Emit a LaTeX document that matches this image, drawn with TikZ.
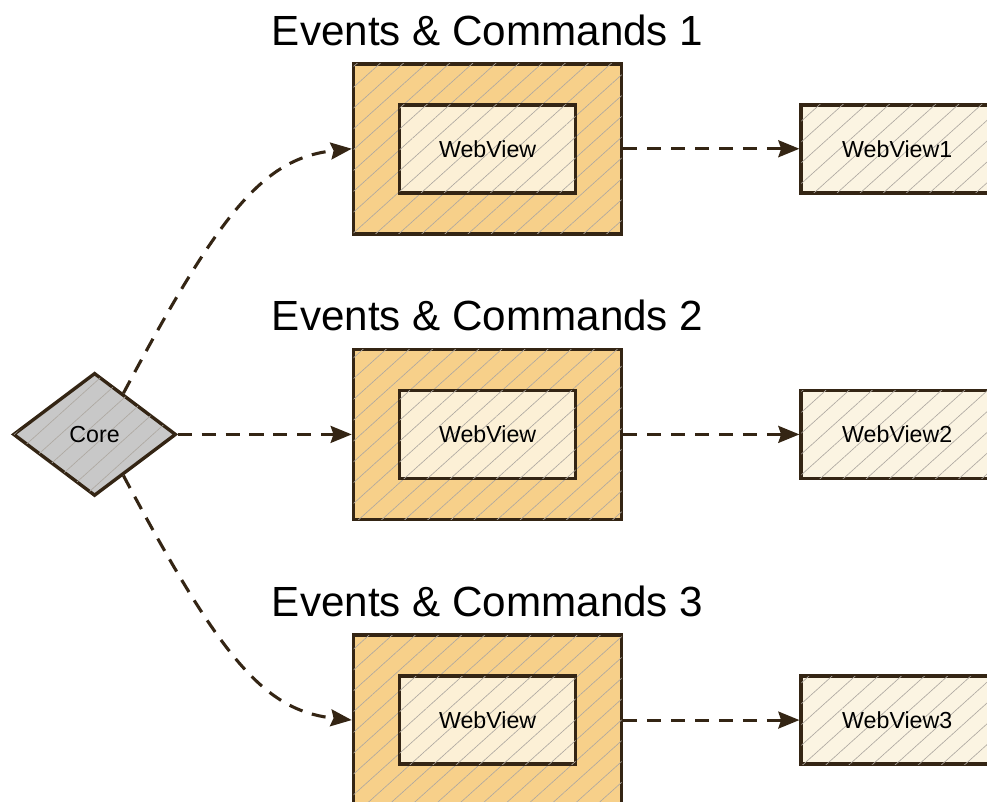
\documentclass[tikz,border=0pt]{standalone}
\usepackage{fontspec}
\setmainfont{Liberation Sans}
\usepackage{xcolor}
\usepackage{tikz}
\definecolor{inkbrown}{RGB}{52, 37, 20}
\definecolor{channelorange}{RGB}{247, 208, 138}
\definecolor{viewcream}{RGB}{252, 240, 214}
\definecolor{windowcream}{RGB}{251, 244, 226}
\definecolor{coregray}{RGB}{200, 200, 200}
\usetikzlibrary{shapes.geometric, arrows.meta, positioning, patterns.meta}

\begin{document}
\begin{tikzpicture}[
    node distance=0.8cm,
    hatch/.style={postaction={pattern={Lines[angle=42, distance=11pt, line width=0.45pt]},
                pattern color=inkbrown!40}},
    core/.style={diamond, draw=inkbrown, fill=coregray, line width=2.4pt,
                minimum width=4.075cm, minimum height=3.075cm, inner sep=0pt,
                font=\fontsize{16.5}{20}\selectfont, hatch},
    channel/.style={rectangle, draw=inkbrown, fill=channelorange, line width=2.6pt,
                minimum width=6.7cm, minimum height=4.25cm, hatch},
    view/.style={rectangle, draw=inkbrown, fill=viewcream, line width=2.6pt,
                minimum width=4.4cm, minimum height=2.2cm,
                font=\fontsize{16.5}{20}\selectfont, hatch},
    window/.style={rectangle, draw=inkbrown, fill=windowcream, line width=2.6pt,
                minimum width=4.8cm, minimum height=2.2cm,
                font=\fontsize{16.5}{20}\selectfont, hatch},
    title/.style={inner sep=0pt, font=\fontsize{30}{36}\selectfont},
    arrow/.style={-{Stealth[length=15pt, width=12pt, inset=2pt]}, dash pattern=on 10pt off 7pt,
                line width=2.2pt, inkbrown}
]
    \clip (0,0) rectangle (24.675,-20.025);

    \node[channel] (ch2) at (12.19,-10.86) {};
    \node[channel, above=2.8cm of ch2] (ch1) {};
    \node[channel, below=2.8cm of ch2] (ch3) {};

    \node[title, above=0.4cm of ch1] (t1) {Events \& Commands 1};
    \node[title, above=0.4cm of ch2] (t2) {Events \& Commands 2};
    \node[title, above=0.4cm of ch3] (t3) {Events \& Commands 3};

    \node[view] (wv1) at (ch1) {WebView};
    \node[view] (wv2) at (ch2) {WebView};
    \node[view] (wv3) at (ch3) {WebView};

    \node[window, right=4.4cm of ch1] (win1) {WebView1};
    \node[window, right=4.4cm of ch2] (win2) {WebView2};
    \node[window, right=4.4cm of ch3] (win3) {WebView3};

    \node[core, left=4.35cm of ch2] (core) {Core};

    \draw[arrow] (core.55) .. controls +(62:5.2) and +(186:2.2) .. (ch1.west);
    \draw[arrow] (core.east) -- (ch2.west);
    \draw[arrow] (core.-55) .. controls +(-62:5.2) and +(174:2.2) .. (ch3.west);

    \draw[arrow] (ch1.east) -- (win1.west);
    \draw[arrow] (ch2.east) -- (win2.west);
    \draw[arrow] (ch3.east) -- (win3.west);
\end{tikzpicture}
\end{document}
